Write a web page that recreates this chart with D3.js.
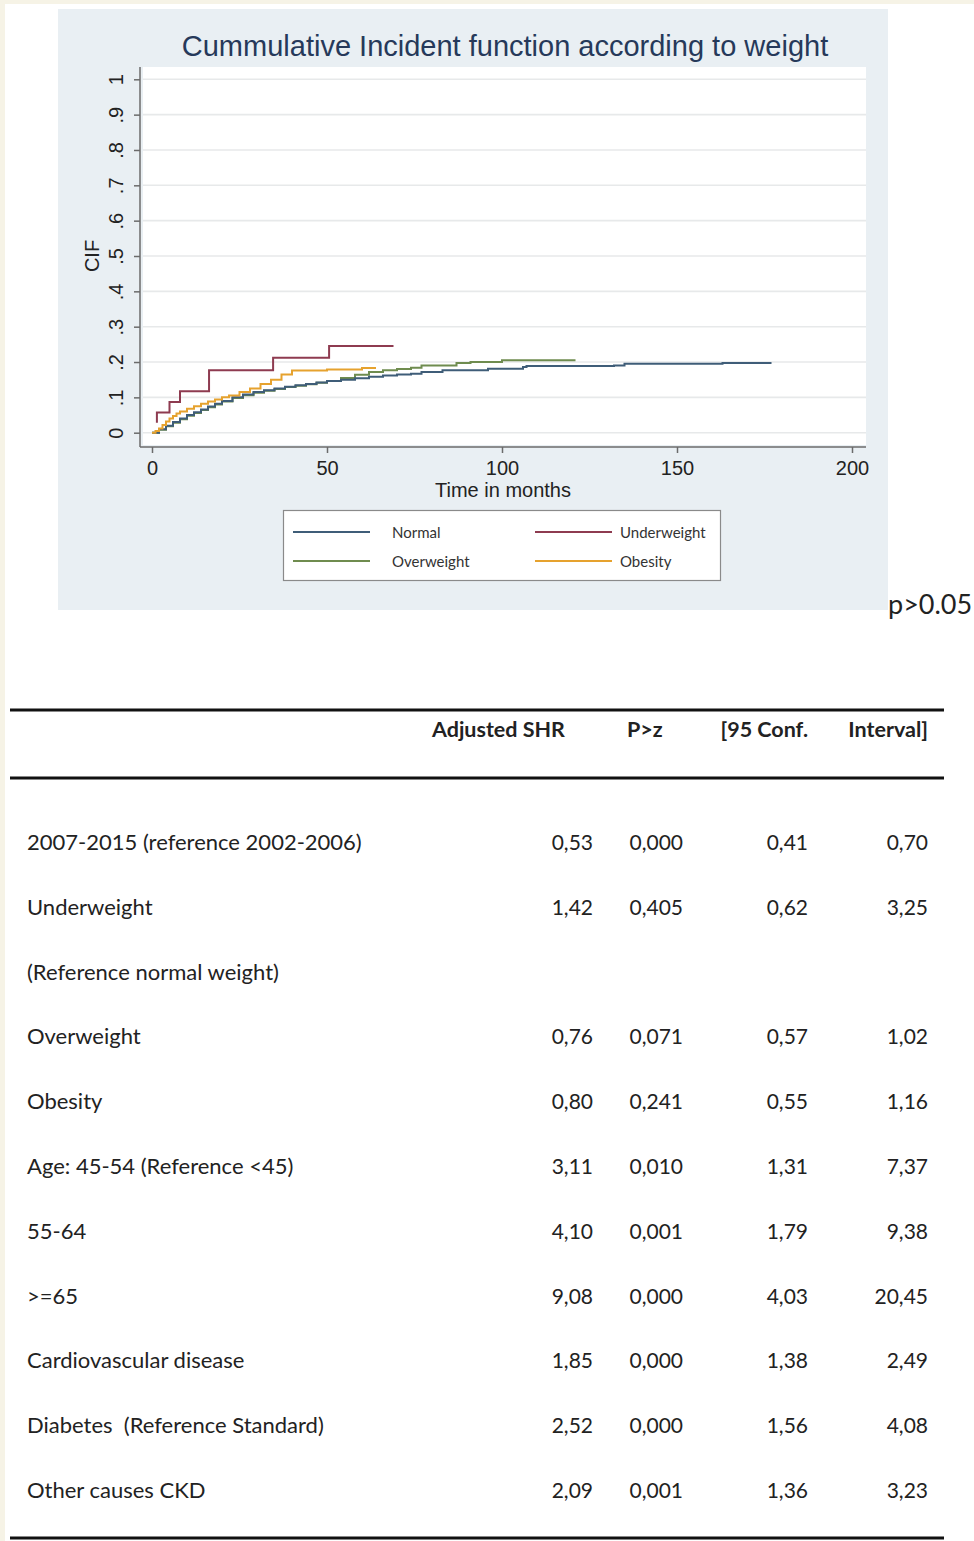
<!DOCTYPE html>
<html>
<head>
<meta charset="utf-8">
<script src="https://cdn.jsdelivr.net/npm/d3@7"></script>
<style>
  html, body { margin: 0; padding: 0; background: #ffffff; }
  svg { display: block; }
</style>
</head>
<body>
<svg id="fig" width="974" height="1541"></svg>
<script>
// ---- CIF curves (time in months, cumulative incidence) ----
const normalT = [0, 2, 4, 6, 8, 10, 12, 14, 16, 18, 20, 23, 26, 29, 32, 35, 38, 41, 44, 47, 50, 54, 58, 62, 66, 70, 74, 77, 83, 96, 106, 107, 132, 135, 163, 177];
const normalV = [0, 0.01, 0.02, 0.03, 0.04, 0.05, 0.058, 0.066, 0.074, 0.082, 0.09, 0.1, 0.108, 0.115, 0.12, 0.125, 0.13, 0.134, 0.138, 0.142, 0.146, 0.15, 0.154, 0.158, 0.162, 0.165, 0.167, 0.172, 0.177, 0.181, 0.186, 0.189, 0.19, 0.195, 0.197, 0.197];

const overT = [0, 2, 4, 6, 8, 10, 12, 14, 16, 18, 20, 23, 26, 29, 32, 35, 38, 41, 44, 47, 50, 54, 58, 62, 66, 70, 74, 77, 87, 91, 100, 121];
const overV = [0, 0.008, 0.018, 0.028, 0.038, 0.048, 0.056, 0.064, 0.072, 0.08, 0.088, 0.098, 0.106, 0.113, 0.119, 0.124, 0.129, 0.133, 0.137, 0.141, 0.146, 0.155, 0.164, 0.172, 0.177, 0.18, 0.184, 0.19, 0.197, 0.2, 0.205, 0.205];

const obeseT = [0, 1, 2, 3, 4, 5, 6, 7, 8, 10, 12, 14, 16, 18, 20, 22, 25, 28, 31, 34, 37, 40, 50, 60, 64];
const obeseV = [0, 0.005, 0.012, 0.022, 0.032, 0.04, 0.047, 0.054, 0.06, 0.068, 0.075, 0.082, 0.088, 0.094, 0.1, 0.105, 0.115, 0.125, 0.138, 0.15, 0.165, 0.176, 0.179, 0.183, 0.183];

const underT = [1.4, 1.4, 5, 8, 16.3, 34.6, 50.6, 69];
const underV = [0.028, 0.057, 0.087, 0.117, 0.177, 0.212, 0.245, 0.245];

const seriesNames = ["Normal", "Underweight", "Overweight", "Obesity"];
const seriesColors = ["#3f5d78", "#8e3b50", "#6f8c4f", "#e6a22e"];

const yTicks = [0, 0.1, 0.2, 0.3, 0.4, 0.5, 0.6, 0.7, 0.8, 0.9, 1];
const yTickLabels = ["0", ".1", ".2", ".3", ".4", ".5", ".6", ".7", ".8", ".9", "1"];
const xTicks = [0, 50, 100, 150, 200];

// ---- Fine-Gray model table ----
const tableHeaders = ["Adjusted SHR", "P>z", "[95 Conf.", "Interval]"];
const rowLabels = ["2007-2015 (reference 2002-2006)", "Underweight", "(Reference normal weight)", "Overweight", "Obesity", "Age: 45-54 (Reference <45)", "55-64", ">=65", "Cardiovascular disease", "Diabetes  (Reference Standard)", "Other causes CKD"];
const shr    = ["0,53", "1,42", null, "0,76", "0,80", "3,11", "4,10", "9,08", "1,85", "2,52", "2,09"];
const pz     = ["0,000", "0,405", null, "0,071", "0,241", "0,010", "0,001", "0,000", "0,000", "0,000", "0,001"];
const ciLow  = ["0,41", "0,62", null, "0,57", "0,55", "1,31", "1,79", "4,03", "1,38", "1,56", "1,36"];
const ciHigh = ["0,70", "3,25", null, "1,02", "1,16", "7,37", "9,38", "20,45", "2,49", "4,08", "3,23"];

const svg = d3.select("#fig");

// page edge strips
svg.append("rect").attr("x", 0).attr("y", 0).attr("width", 974).attr("height", 4).attr("fill", "#f6f3e6");
svg.append("rect").attr("x", 0).attr("y", 0).attr("width", 5).attr("height", 1541).attr("fill", "#f6f3e6");

// ---- graph panel ----
svg.append("rect").attr("x", 58).attr("y", 9).attr("width", 830).attr("height", 601).attr("fill", "#e9eff3");

const x = d3.scaleLinear().domain([0, 200]).range([152, 852]);
const y = d3.scaleLinear().domain([0, 1]).range([432.7, 79.3]);

svg.append("rect").attr("x", 143).attr("y", 67).attr("width", 723).attr("height", 378).attr("fill", "#ffffff");

// horizontal grid
svg.append("g").selectAll("line").data(yTicks).join("line")
  .attr("x1", 143).attr("x2", 866)
  .attr("y1", d => y(d)).attr("y2", d => y(d))
  .attr("stroke", "#e7e9ea").attr("stroke-width", 1.6);

// title
svg.append("text").attr("x", 505).attr("y", 56).attr("text-anchor", "middle")
  .attr("font-family", "Liberation Sans, Arial, sans-serif").attr("font-size", 29)
  .attr("fill", "#26395a").text("Cummulative Incident function according to weight");

// y axis
const yAxis = d3.axisLeft(y).tickValues(yTicks).tickSize(6).tickFormat((d, i) => yTickLabels[i]);
const gy = svg.append("g").attr("transform", "translate(140,0)").call(yAxis);
gy.select(".domain").attr("d", "M0,67V447").attr("stroke", "#6b6b6b").attr("stroke-width", 1.5);
gy.selectAll(".tick line").attr("stroke", "#6b6b6b").attr("stroke-width", 1.5);
gy.selectAll(".tick text")
  .attr("font-family", "Liberation Sans, Arial, sans-serif").attr("font-size", 20).attr("fill", "#222")
  .attr("x", null).attr("dy", null)
  .attr("text-anchor", "middle")
  .attr("transform", "translate(-17,0) rotate(-90)");

svg.append("text").attr("transform", "translate(99,256) rotate(-90)").attr("text-anchor", "middle")
  .attr("font-family", "Liberation Sans, Arial, sans-serif").attr("font-size", 20).attr("fill", "#222").text("CIF");

// x axis
const xAxis = d3.axisBottom(x).tickValues(xTicks).tickSize(6);
const gx = svg.append("g").attr("transform", "translate(0,447)").call(xAxis);
gx.select(".domain").attr("d", "M140,0H866").attr("stroke", "#6b6b6b").attr("stroke-width", 1.5);
gx.selectAll(".tick line").attr("stroke", "#6b6b6b").attr("stroke-width", 1.5);
gx.selectAll(".tick text")
  .attr("font-family", "Liberation Sans, Arial, sans-serif").attr("font-size", 20).attr("fill", "#222")
  .attr("y", 10).attr("dy", "0.9em");

svg.append("text").attr("x", 503).attr("y", 497).attr("text-anchor", "middle")
  .attr("font-family", "Liberation Sans, Arial, sans-serif").attr("font-size", 20).attr("fill", "#222").text("Time in months");

// curves
const line = d3.line().x(d => x(d[0])).y(d => y(d[1])).curve(d3.curveStepAfter);
const curves = [
  { name: "Overweight", t: overT, v: overV },
  { name: "Normal", t: normalT, v: normalV },
  { name: "Obesity", t: obeseT, v: obeseV },
  { name: "Underweight", t: underT, v: underV }
];
svg.append("g").selectAll("path").data(curves).join("path")
  .attr("d", c => line(c.t.map((t, i) => [t, c.v[i]])))
  .attr("fill", "none")
  .attr("stroke", c => seriesColors[seriesNames.indexOf(c.name)])
  .attr("stroke-width", 2);

// legend
const leg = svg.append("g");
leg.append("rect").attr("x", 283.5).attr("y", 510.5).attr("width", 437).attr("height", 70)
  .attr("fill", "#ffffff").attr("stroke", "#8a8a8a").attr("stroke-width", 1.2);
const legPos = [[293, 532], [535, 532], [293, 561], [535, 561]];
seriesNames.forEach((n, i) => {
  const [lx, ly] = legPos[i];
  leg.append("line").attr("x1", lx).attr("x2", lx + 77).attr("y1", ly).attr("y2", ly)
    .attr("stroke", seriesColors[i]).attr("stroke-width", 2);
  leg.append("text").attr("x", lx + (i % 2 ? 85 : 99)).attr("y", ly + 6)
    .attr("font-family", "Lato, sans-serif").attr("font-size", 15).attr("fill", "#333").text(n);
});

svg.append("text").attr("x", 888).attr("y", 614)
  .attr("font-family", "Lato, sans-serif").attr("font-size", 27).attr("fill", "#222").text("p>0.05");

// ---- table ----
const tbl = svg.append("g");
[710, 778, 1538].forEach(yy => {
  tbl.append("line").attr("x1", 10).attr("x2", 944).attr("y1", yy).attr("y2", yy)
    .attr("stroke", "#111").attr("stroke-width", 3);
});

const headerX = [[432, "start"], [627, "start"], [808, "end"], [928, "end"]];
tableHeaders.forEach((h, i) => {
  tbl.append("text").attr("x", headerX[i][0]).attr("y", 737).attr("text-anchor", headerX[i][1])
    .attr("font-family", "Lato, sans-serif").attr("font-weight", "bold").attr("font-size", 21.5)
    .attr("fill", "#222").text(h);
});

const rowY = d3.scaleLinear().domain([0, rowLabels.length - 1]).range([850, 1498]);
const colRight = [593, 683, 808, 928];
const cols = [shr, pz, ciLow, ciHigh];
rowLabels.forEach((lab, r) => {
  tbl.append("text").attr("x", 27).attr("y", rowY(r))
    .attr("font-family", "Lato, sans-serif").attr("font-size", 22).attr("fill", "#222")
    .style("white-space", "pre").text(lab);
  cols.forEach((col, c) => {
    if (col[r] === null) return;
    tbl.append("text").attr("x", colRight[c]).attr("y", rowY(r)).attr("text-anchor", "end")
      .attr("font-family", "Lato, sans-serif").attr("font-size", 21).attr("fill", "#222").text(col[r]);
  });
});
</script>
</body>
</html>
